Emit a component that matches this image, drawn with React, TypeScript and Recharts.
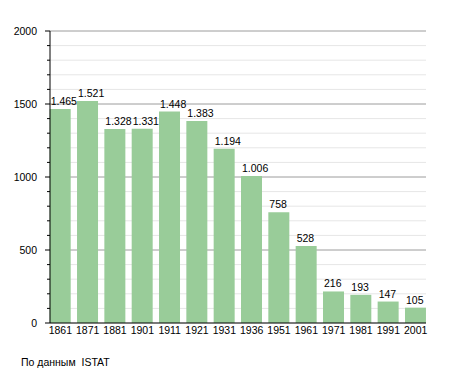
import { BarChart, Bar, XAxis, YAxis, CartesianGrid, LabelList } from 'recharts';

const years = ['1861', '1871', '1881', '1901', '1911', '1921', '1931', '1936', '1951', '1961', '1971', '1981', '1991', '2001'];
const population = [1465, 1521, 1328, 1331, 1448, 1383, 1194, 1006, 758, 528, 216, 193, 147, 105];
const yTicks = [0, 100, 200, 300, 400, 500, 600, 700, 800, 900, 1000, 1100, 1200, 1300, 1400, 1500, 1600, 1700, 1800, 1900, 2000];
const majorTicks = [500, 1000, 1500, 2000];
const yMax = 2000;

const data = years.map((year, i) => ({ year, value: population[i] }));

const font = '"Liberation Sans", Arial, sans-serif';
const fs = 10.5;

// 1465 -> "1.465"
const fmt = (v: number) =>
  v >= 1000 ? `${Math.floor(v / 1000)}.${String(v % 1000).padStart(3, '0')}` : String(v);

function YTick(props: any) {
  const { x, y, payload } = props;
  const v = payload.value;
  const major = v % 500 === 0;
  return (
    <g>
      <line x1={x - (major ? 5 : 3)} x2={x} y1={y} y2={y} stroke="#000" />
      {major && (
        <text x={x - 13} y={y} dy="0.36em" textAnchor="end" fontSize={fs} fontFamily={font} fill="#000">
          {v}
        </text>
      )}
    </g>
  );
}

function BarLabel(props: any) {
  const { x, y, value } = props;
  return (
    <text x={x + 1} y={y - 4} fontSize={fs} fontFamily={font} fill="#000" textAnchor="start">
      {fmt(value)}
    </text>
  );
}

// darker lines every 500, placed on the linear 0..yMax plot scale
const majorLines = ({ offset }: any) =>
  majorTicks.map((t) => offset.top + offset.height * (1 - t / yMax));

export default function App() {
  return (
    <div style={{ position: 'fixed', left: 0, top: 0, width: 455, height: 373, background: '#fff' }}>
      <BarChart
        width={455}
        height={373}
        data={data}
        margin={{ top: 31, right: 29, bottom: 30, left: 0 }}
        barSize={21}
      >
        <CartesianGrid vertical={false} stroke="#e6e6e6" />
        <CartesianGrid vertical={false} stroke="#a8a8a8" horizontalCoordinatesGenerator={majorLines} />
        <XAxis
          dataKey="year"
          height={20}
          interval={0}
          tickLine={false}
          tickSize={0}
          tickMargin={4}
          padding={{ left: -3.3, right: -3.3 }}
          axisLine={{ stroke: '#000' }}
          tick={{ fontSize: fs, fontFamily: font, fill: '#000' }}
        />
        <YAxis
          width={50}
          domain={[0, yMax]}
          ticks={yTicks}
          interval={0}
          tickLine={false}
          tickSize={0}
          tickMargin={0}
          axisLine={{ stroke: '#000' }}
          tick={<YTick />}
        />
        <Bar dataKey="value" fill="#99cc99" isAnimationActive={false}>
          <LabelList dataKey="value" content={<BarLabel />} />
        </Bar>
      </BarChart>
      <div
        style={{
          position: 'absolute',
          left: 21,
          top: 356,
          fontSize: fs,
          fontFamily: font,
          whiteSpace: 'pre',
          color: '#000',
        }}
      >
        По данным  ISTAT
      </div>
    </div>
  );
}
